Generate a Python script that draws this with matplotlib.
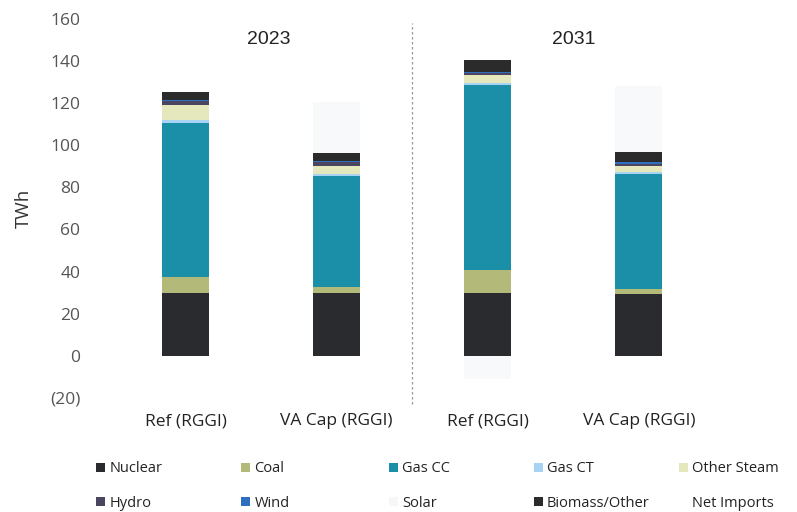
import numpy as np
import matplotlib
matplotlib.use("Agg")
from matplotlib import pyplot as plt
from matplotlib.patches import Patch

# Scenario bars (2023 pair, then 2031 pair)
scenarios = ['Ref (RGGI)', 'VA Cap (RGGI)', 'Ref (RGGI)', 'VA Cap (RGGI)']
years = ['2023', '2031']

# Generation by fuel, TWh
nuclear = [30.0, 30.0, 30.0, 29.5]
coal = [7.5, 2.5, 10.5, 2.0]
gas_cc = [73.0, 53.0, 88.0, 55.0]
gas_ct = [1.5, 1.0, 1.0, 1.0]
other_steam = [7.0, 3.5, 4.0, 2.5]
hydro = [2.0, 2.0, 1.0, 1.0]
wind = [0.3, 0.5, 0.3, 1.0]
solar = [0.0, 0.0, 0.0, 0.0]
biomass = [4.0, 4.0, 5.5, 5.0]
net_imports = [0.0, 24.0, -11.0, 31.0]

series = [
    ('Nuclear', nuclear, '#2a2b2e'),
    ('Coal', coal, '#b3b978'),
    ('Gas CC', gas_cc, '#1b8ea8'),
    ('Gas CT', gas_ct, '#a9d3f2'),
    ('Other Steam', other_steam, '#e4e8bc'),
    ('Hydro', hydro, '#4b4560'),
    ('Wind', wind, '#2f6fc0'),
    ('Solar', solar, '#f7f7f7'),
    ('Biomass/Other', biomass, '#2b2b2b'),
]
imports_color = '#f8f9fb'

plt.rcParams['font.family'] = ['Open Sans', 'DejaVu Sans']

fig = plt.figure(figsize=(7.97, 5.12), dpi=100)
ax = fig.add_axes([0.125, 0.223, 0.866, 0.740])

x = np.arange(len(scenarios))
width = 0.31

bottom = np.zeros(len(scenarios))
for name, vals, color in series:
    vals = np.array(vals)
    ax.bar(x, vals, width, bottom=bottom, color=color, linewidth=0)
    bottom += vals

# Net imports: positive stacks on top, negative hangs below zero
imp = np.array(net_imports)
ax.bar(x, np.where(imp > 0, imp, 0), width, bottom=bottom, color=imports_color, linewidth=0, zorder=0)
ax.bar(x, np.where(imp < 0, imp, 0), width, color=imports_color, linewidth=0, zorder=0)

ax.set_xlim(-0.57, 4.0)
ax.set_ylim(-20, 160)
ax.set_yticks(np.arange(-20, 161, 20))
ax.set_yticklabels(['(20)'] + [str(v) for v in range(0, 161, 20)])
ax.set_xticks(x)
ax.set_xticklabels(scenarios)
ax.tick_params(axis='y', length=0, labelsize=12.5, labelcolor='#555555', pad=14)
ax.tick_params(axis='x', length=0, labelsize=12.5, labelcolor='#222222', pad=11)
for s in ax.spines.values():
    s.set_visible(False)

ax.set_ylabel('TWh', fontsize=13.5, color='#333333', labelpad=12)

# year divider and labels
ax.plot([1.5, 1.5], [-23, 158], ls=(0, (2, 2)), color='#999999', lw=0.9, clip_on=False)
ax.text(0.55, 150, years[0], ha='center', va='center', fontsize=14, family='Liberation Sans', color='#222222')
ax.text(2.57, 150, years[1], ha='center', va='center', fontsize=14, family='Liberation Sans', color='#222222')

# legend: five fixed-width columns, two rows each
handles = [Patch(facecolor=c, edgecolor='none') for _, _, c in series]
handles.append(Patch(facecolor='white', edgecolor='none'))
labels = [n for n, _, _ in series] + ['Net Imports']
col_x = [0.108, 0.290, 0.475, 0.657, 0.839]
for i, cx in enumerate(col_x):
    leg = fig.legend([handles[i], handles[i + 5]], [labels[i], labels[i + 5]],
                     loc='lower left', bbox_to_anchor=(cx, -0.018),
                     frameon=False, fontsize=10.5, handlelength=0.6, handleheight=0.6,
                     handletextpad=0.3, labelspacing=1.35, borderaxespad=0.3,
                     labelcolor='#222222')

fig.savefig('out.png', dpi=100)
